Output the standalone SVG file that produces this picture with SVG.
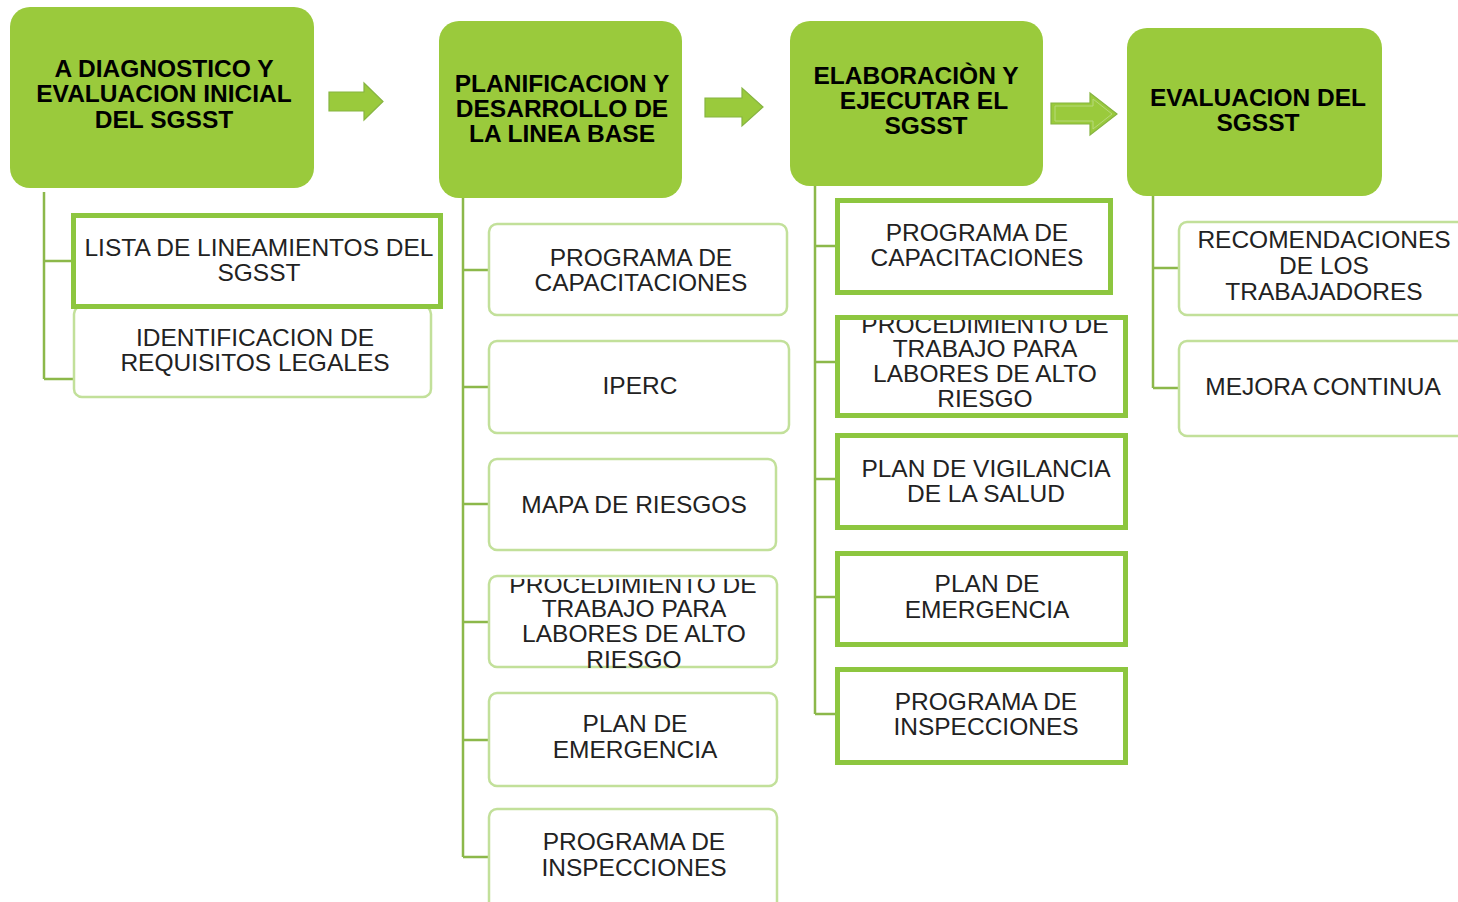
<svg xmlns="http://www.w3.org/2000/svg" width="1458" height="902" viewBox="0 0 1458 902">
  <defs>
    <style>
      .head { fill: #9aca3c; }
      .htxt { font-family: "Liberation Sans", Arial, sans-serif; font-weight: bold; font-size: 24.5px; fill: #000; text-anchor: middle; }
      .ctxt { font-family: "Liberation Sans", Arial, sans-serif; font-size: 24.5px; fill: #222; text-anchor: middle; }
      .thick { fill: #fff; stroke: #8dc63f; stroke-width: 5; }
      .light { fill: #fff; stroke: #c2e09a; stroke-width: 2.5; }
      .conn { fill: none; stroke: #8cb84a; stroke-width: 2.5; }
      .arrow { fill: #9aca3c; stroke: #86b441; stroke-width: 1.2; }
    </style>
    <!-- first lines of the long labels are cut off by the box top -->
    <clipPath id="clipProc2"><rect x="480" y="579" width="310" height="200"/></clipPath>
    <clipPath id="clipProc3"><rect x="830" y="320" width="310" height="200"/></clipPath>
  </defs>

  <rect width="1458" height="902" fill="#fff"/>

  <!-- connectors -->
  <g id="connectors">
    <path class="conn" d="M44 192 V379 M44 261 H72 M44 379 H74"/>
    <path class="conn" d="M463 198 V857 M463 270 H488 M463 387 H488 M463 504 H488 M463 622 H488 M463 740 H488 M463 857 H488"/>
    <path class="conn" d="M815 178 V714 M815 246 H836 M815 362 H836 M815 479 H836 M815 597 H836 M815 714 H836"/>
    <path class="conn" d="M1153 196 V388 M1153 268 H1179 M1153 388 H1179"/>
    <polygon class="arrow" points="329,92 364,92 364,83 383,101.5 364,120 364,111 329,111"/>
    <polygon class="arrow" points="705,98 742,98 742,88 763,107 742,126 742,117 705,117"/>
    <polygon class="arrow" points="1051,103 1090,103 1090,93 1117,114 1090,135 1090,124 1051,124"/>
    <polygon fill="none" stroke="#b7d97a" stroke-width="1" points="1055,106 1093,106 1093,99 1112,114 1093,129 1093,121 1055,121"/>
  </g>

  <!-- phase 1 -->
  <g id="phase1">
    <rect class="head" x="10" y="7" width="304" height="181" rx="20"/>
    <text class="htxt" x="164" y="77">A DIAGNOSTICO Y</text>
    <text class="htxt" x="164" y="102">EVALUACION INICIAL</text>
    <text class="htxt" x="164" y="128">DEL SGSST</text>
  </g>
  <g id="requisitos-legales">
    <rect class="light" x="74" y="306" width="357" height="91" rx="8"/>
    <text class="ctxt" x="255" y="346">IDENTIFICACION DE</text>
    <text class="ctxt" x="255" y="371">REQUISITOS LEGALES</text>
  </g>
  <g id="lista-lineamientos">
    <rect class="thick" x="73.5" y="215.5" width="367" height="91"/>
    <text class="ctxt" x="259" y="256">LISTA DE LINEAMIENTOS DEL</text>
    <text class="ctxt" x="259" y="281">SGSST</text>
  </g>

  <!-- phase 2 -->
  <g id="phase2">
    <rect class="head" x="439" y="21" width="243" height="177" rx="20"/>
    <text class="htxt" x="562" y="92">PLANIFICACION Y</text>
    <text class="htxt" x="562" y="117">DESARROLLO DE</text>
    <text class="htxt" x="562" y="142">LA LINEA BASE</text>
  </g>
  <g id="p2-capacitaciones">
    <rect class="light" x="489" y="224" width="298" height="91" rx="8"/>
    <text class="ctxt" x="641" y="266">PROGRAMA DE</text>
    <text class="ctxt" x="641" y="291">CAPACITACIONES</text>
  </g>
  <g id="p2-iperc">
    <rect class="light" x="489" y="341" width="300" height="92" rx="8"/>
    <text class="ctxt" x="640" y="394">IPERC</text>
  </g>
  <g id="p2-mapa">
    <rect class="light" x="489" y="459" width="287" height="91" rx="8"/>
    <text class="ctxt" x="634" y="513">MAPA DE RIESGOS</text>
  </g>
  <g id="p2-procedimiento">
    <rect class="light" x="489" y="576" width="288" height="91" rx="8"/>
    <g clip-path="url(#clipProc2)">
      <text class="ctxt" x="633" y="593">PROCEDIMIENTO DE</text>
    </g>
    <text class="ctxt" x="634" y="617">TRABAJO PARA</text>
    <text class="ctxt" x="634" y="642">LABORES DE ALTO</text>
    <text class="ctxt" x="634" y="668">RIESGO</text>
  </g>
  <g id="p2-emergencia">
    <rect class="light" x="489" y="693" width="288" height="93" rx="8"/>
    <text class="ctxt" x="635" y="732">PLAN DE</text>
    <text class="ctxt" x="635" y="758">EMERGENCIA</text>
  </g>
  <g id="p2-inspecciones">
    <rect class="light" x="489" y="809" width="288" height="110" rx="8"/>
    <text class="ctxt" x="634" y="850">PROGRAMA DE</text>
    <text class="ctxt" x="634" y="876">INSPECCIONES</text>
  </g>

  <!-- phase 3 -->
  <g id="phase3">
    <rect class="head" x="790" y="21" width="253" height="165" rx="20"/>
    <text class="htxt" x="916" y="84">ELABORACIÒN Y</text>
    <text class="htxt" x="924" y="109">EJECUTAR EL</text>
    <text class="htxt" x="926" y="134">SGSST</text>
  </g>
  <g id="p3-capacitaciones">
    <rect class="thick" x="837.5" y="200.5" width="273" height="92"/>
    <text class="ctxt" x="977" y="241">PROGRAMA DE</text>
    <text class="ctxt" x="977" y="266">CAPACITACIONES</text>
  </g>
  <g id="p3-procedimiento">
    <rect class="thick" x="837.5" y="317.5" width="288" height="98"/>
    <g clip-path="url(#clipProc3)">
      <text class="ctxt" x="985" y="333">PROCEDIMIENTO DE</text>
    </g>
    <text class="ctxt" x="985" y="357">TRABAJO PARA</text>
    <text class="ctxt" x="985" y="382">LABORES DE ALTO</text>
    <text class="ctxt" x="985" y="407">RIESGO</text>
  </g>
  <g id="p3-vigilancia">
    <rect class="thick" x="837.5" y="435.5" width="288" height="92"/>
    <text class="ctxt" x="986" y="477">PLAN DE VIGILANCIA</text>
    <text class="ctxt" x="986" y="502">DE LA SALUD</text>
  </g>
  <g id="p3-emergencia">
    <rect class="thick" x="837.5" y="553.5" width="288" height="91"/>
    <text class="ctxt" x="987" y="592">PLAN DE</text>
    <text class="ctxt" x="987" y="618">EMERGENCIA</text>
  </g>
  <g id="p3-inspecciones">
    <rect class="thick" x="837.5" y="669.5" width="288" height="93"/>
    <text class="ctxt" x="986" y="710">PROGRAMA DE</text>
    <text class="ctxt" x="986" y="735">INSPECCIONES</text>
  </g>

  <!-- phase 4 -->
  <g id="phase4">
    <rect class="head" x="1127" y="28" width="255" height="168" rx="20"/>
    <text class="htxt" x="1258" y="106">EVALUACION DEL</text>
    <text class="htxt" x="1258" y="131">SGSST</text>
  </g>
  <g id="p4-recomendaciones">
    <rect class="light" x="1179" y="222" width="300" height="93" rx="8"/>
    <text class="ctxt" x="1324" y="248">RECOMENDACIONES</text>
    <text class="ctxt" x="1324" y="274">DE LOS</text>
    <text class="ctxt" x="1324" y="300">TRABAJADORES</text>
  </g>
  <g id="p4-mejora">
    <rect class="light" x="1179" y="341" width="300" height="95" rx="8"/>
    <text class="ctxt" x="1323" y="395">MEJORA CONTINUA</text>
  </g>
</svg>
